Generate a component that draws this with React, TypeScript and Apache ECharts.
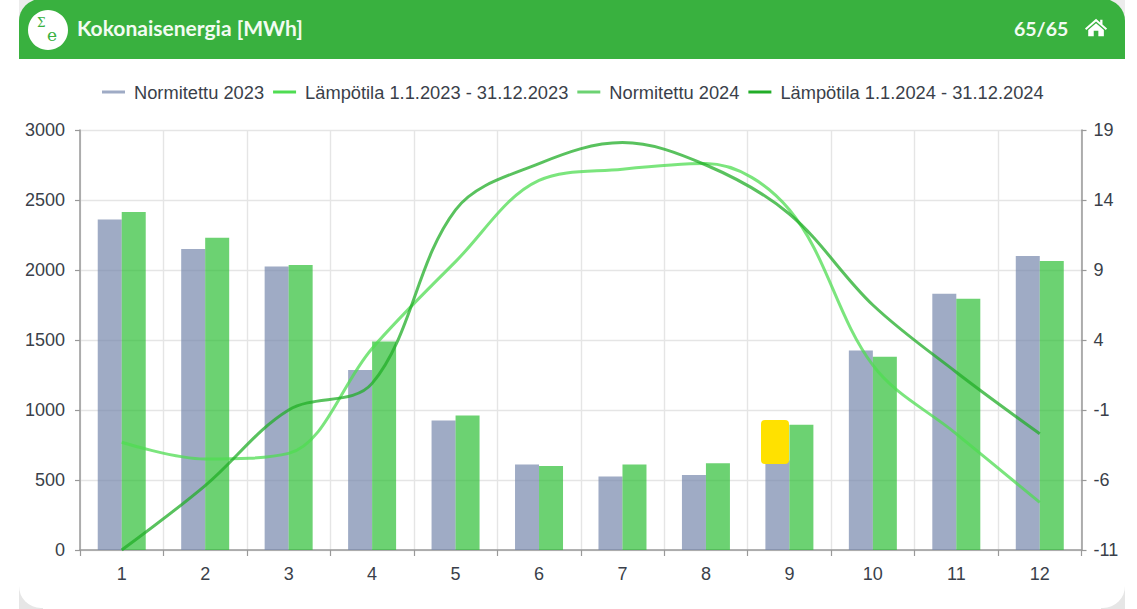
import React, { useEffect, useRef } from "react";
import * as echarts from "echarts";

const months = ["1", "2", "3", "4", "5", "6", "7", "8", "9", "10", "11", "12"];
const norm2023 = [2360, 2150, 2025, 1285, 925, 610, 525, 535, 640, 1425, 1830, 2100];
const norm2024 = [2415, 2230, 2035, 1490, 960, 600, 610, 620, 895, 1380, 1795, 2065];
const temp2023 = [-3.3, -4.5, -4.1, 3.4, 9.6, 15.4, 16.2, 16.6, 13.3, 2.2, -2.7, -7.6];
const temp2024 = [-11, -6.4, -1.0, 0.9, 13.3, 16.6, 18.1, 16.5, 13, 6.5, 1.7, -2.7];
const tempTicks = [-11, -6, -1, 4, 9, 14, 19];
const names = ["Normitettu 2023", "Lämpötila 1.1.2023 - 31.12.2023", "Normitettu 2024", "Lämpötila 1.1.2024 - 31.12.2024"];

echarts.graphic.registerShape(
  "homeIcon",
  echarts.graphic.extendPath(
    "M12 3 L16.5 7 V4 H19 V9.2 L24 13.6 L22.6 15.2 L12 5.9 L1.4 15.2 L0 13.6 Z M12 8 L20.5 15.3 V22 H14.5 V16 H9.5 V22 H3.5 V15.3 Z",
    {}
  )
);

const AX = "#999999";
const TXT = "#3a3f4a";

export default function App() {
  const ref = useRef<HTMLDivElement>(null);
  useEffect(() => {
    document.body.style.margin = "0";
    const chart = echarts.init(ref.current!, null, { renderer: "svg" });
    chart.setOption({
      animation: false,
      backgroundColor: "#ffffff",
      textStyle: { fontFamily: "Liberation Sans" },
      legend: {
        left: 97,
        top: 78,
        itemWidth: 23,
        itemHeight: 3,
        itemGap: 9,
        icon: "rect",
        data: names,
        textStyle: { fontSize: 18.3, color: TXT, fontFamily: "Liberation Sans", padding: [0, 0, 0, 4] },
      },
      grid: { left: 80, right: 55.5, top: 130, bottom: 59, containLabel: false },
      xAxis: {
        type: "category",
        data: months,
        boundaryGap: true,
        axisLine: { lineStyle: { color: AX, width: 1.5 } },
        axisTick: { show: true, length: 6, lineStyle: { color: AX, width: 1.2 } },
        axisLabel: { fontSize: 18, color: TXT, margin: 15 },
        splitLine: { show: true, lineStyle: { color: "#e5e5e5", width: 1.4 } },
      },
      yAxis: [
        {
          type: "value",
          min: 0,
          max: 3000,
          interval: 500,
          axisLine: { show: true, lineStyle: { color: AX, width: 1.5 } },
          axisTick: { show: true, length: 5, lineStyle: { color: AX, width: 1.2 } },
          axisLabel: { fontSize: 18, color: TXT, margin: 15, formatter: (v: number) => String(v) },
          splitLine: { show: true, lineStyle: { color: "#e5e5e5", width: 1.4 } },
        },
        {
          type: "value",
          min: -11,
          max: 19,
          position: "right",
          axisLine: { show: true, lineStyle: { color: AX, width: 1.5 } },
          axisTick: { show: true, length: 5, customValues: tempTicks, lineStyle: { color: AX, width: 1.2 } },
          axisLabel: { fontSize: 18, color: TXT, margin: 12, customValues: tempTicks },
          splitLine: { show: false },
        },
      ],
      series: [
        {
          name: names[0],
          type: "bar",
          data: norm2023,
          barWidth: 24,
          barGap: 0,
          itemStyle: { color: "#7687ac", opacity: 0.7 },
        },
        {
          name: names[1],
          type: "line",
          yAxisIndex: 1,
          data: temp2023,
          smooth: 0.35,
          showSymbol: false,
          itemStyle: { color: "#4fdc52" },
          lineStyle: { color: "#4fdc52", width: 3, opacity: 0.75 },
          z: 5,
        },
        {
          name: names[2],
          type: "bar",
          data: norm2024,
          barWidth: 24,
          barGap: 0,
          itemStyle: { color: "#2dbf36", opacity: 0.7 },
        },
        {
          name: names[3],
          type: "line",
          yAxisIndex: 1,
          data: temp2024,
          smooth: 0.35,
          showSymbol: false,
          itemStyle: { color: "#22ad28" },
          lineStyle: { color: "#22ad28", width: 3, opacity: 0.75 },
          z: 6,
        },
      ],
      graphic: [
        { type: "rect", z: -10, shape: { x: 19, y: 0, width: 24, height: 24 }, style: { fill: "#ececec" } },
        { type: "rect", z: -10, shape: { x: 1101, y: 0, width: 24, height: 24 }, style: { fill: "#ececec" } },
        { type: "rect", z: -10, shape: { x: 19, y: 585, width: 24, height: 24 }, style: { fill: "#e6e6e6" } },
        { type: "rect", z: -10, shape: { x: 1101, y: 585, width: 24, height: 24 }, style: { fill: "#e6e6e6" } },
        { type: "rect", z: -9, shape: { x: 19, y: 40, width: 1106, height: 568, r: [0, 0, 22, 22] }, style: { fill: "#ffffff" } },
        { type: "rect", z: -8, shape: { x: 19, y: -1, width: 1106, height: 60, r: [22, 22, 0, 0] }, style: { fill: "#39b13f" } },
        { type: "circle", z: 10, shape: { cx: 48, cy: 30, r: 20 }, style: { fill: "#ffffff" } },
        { type: "text", z: 11, x: 37, y: 17, style: { text: "Σ", fontSize: 12, fontFamily: "DejaVu Serif", fill: "#39b13f" } },
        { type: "text", z: 11, x: 47, y: 26, style: { text: "e", fontSize: 17, fontFamily: "DejaVu Serif", fill: "#39b13f" } },
        { type: "text", z: 11, x: 77, y: 17, style: { text: "Kokonaisenergia [MWh]", fontSize: 21, fontWeight: "bold", fontFamily: "Lato", fill: "#f2fbf2" } },
        { type: "text", z: 11, x: 1014, y: 18, style: { text: "65/65", fontSize: 19.5, fontWeight: "bold", fontFamily: "Lato", fill: "#f2fbf2" } },
        { type: "homeIcon", z: 11, x: 1085, y: 16, scaleX: 0.92, scaleY: 0.92, style: { fill: "#ffffff" } },
        { type: "rect", z: 20, shape: { x: 761, y: 420, width: 28, height: 44, r: 4 }, style: { fill: "#ffe100" } },
      ],
    });
    return () => chart.dispose();
  }, []);
  return <div ref={ref} style={{ width: 1137, height: 609 }} />;
}
